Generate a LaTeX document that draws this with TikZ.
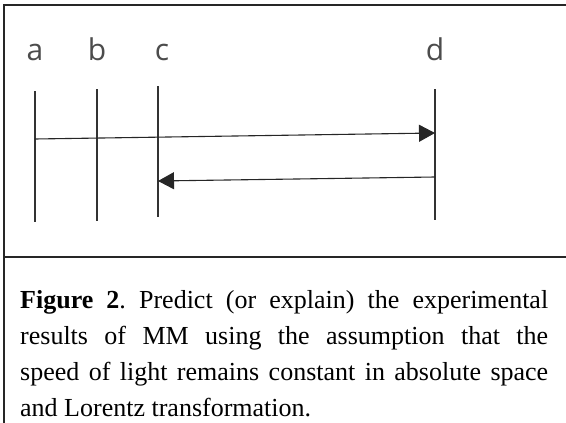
\documentclass[tikz,border=0pt]{standalone}
\usepackage{fontspec}
\newfontfamily\capfont{Liberation Serif}
\newfontfamily\labfont{Open Sans}
\usetikzlibrary{arrows.meta}
\tikzset{
  frame/.style={line width=1.6pt, black!85},
  tick/.style={line width=1.1pt, black!80},
  ray/.style={line width=1.1pt, black!85, -{Triangle[length=16pt,width=17pt]}},
  lab/.style={font=\labfont\fontsize{30}{34}\selectfont, text=black!70, anchor=base, inner sep=0pt},
}
\begin{document}
\begin{tikzpicture}[x=1pt,y=-1pt]
\useasboundingbox (0,0) rectangle (566,423);
% frame
\coordinate (tl) at (4,5);
\coordinate (tr) at (566,5);
\coordinate (bl) at (4,423);
\coordinate (sl) at (4,257);
\coordinate (sr) at (566,257);
\draw[frame] (tr) -- (tl) -- (bl);
\draw[frame] (sl) -- (sr);
% labels
\node[lab] (la) at (35,60) {a};
\node[lab] (lb) at (97,60) {b};
\node[lab] (lc) at (162,60) {c};
\node[lab] (ld) at (435,60) {d};
% vertical lines
\coordinate (at) at (35,91);  \coordinate (ab) at (35,222);
\coordinate (bt) at (97,89);  \coordinate (bb) at (97,221);
\coordinate (ct) at (158,86); \coordinate (cb) at (158,217);
\coordinate (dt) at (435,89); \coordinate (db) at (435,220);
\draw[tick] (at) -- (ab);
\draw[tick] (bt) -- (bb);
\draw[tick] (ct) -- (cb);
\draw[tick] (dt) -- (db);
% rays
\coordinate (r1s) at (35,139);
\coordinate (r1e) at (435,133);
\coordinate (r2s) at (435,177);
\coordinate (r2e) at (158,181);
\draw[ray] (r1s) -- (r1e);
\draw[ray] (r2s) -- (r2e);
% caption
\node[anchor=north west, inner sep=0pt, text width=528pt, align=justify,
      font=\capfont\fontsize{26}{36}\selectfont\frenchspacing] (cap) at (20,288)
 {\rule{0pt}{20pt}\textbf{Figure 2}. Predict (or explain) the experimental\linebreak
  results of MM using the assumption that the\linebreak
  speed of light remains constant in absolute space\linebreak
  and Lorentz transformation.};
\end{tikzpicture}
\end{document}
